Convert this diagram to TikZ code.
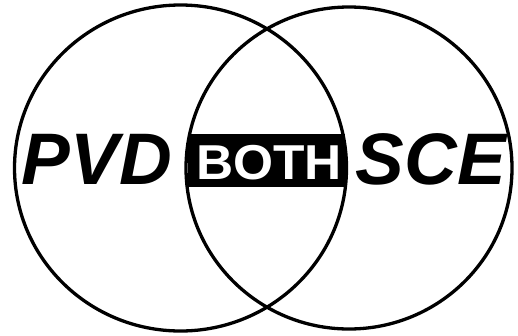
\documentclass[tikz,border=0pt]{standalone}
\usepackage{fontspec}
\setmainfont{Liberation Sans}
\begin{document}
\begin{tikzpicture}[x=1pt,y=-1pt,
  ring/.style={draw=black,line width=3.3pt},
  bigtxt/.style={font=\fontsize{73}{73}\selectfont\bfseries\itshape,inner sep=0pt,anchor=base},
  bothbox/.style={fill=black,minimum width=157pt,minimum height=53pt,inner sep=0pt},
  bothtext/.style={text=white,font=\fontsize{49}{49}\selectfont\bfseries,inner sep=0pt,anchor=base,xscale=1.05}]
\useasboundingbox (0,0) rectangle (518,335);
\draw[ring] (180.5,168) ellipse [x radius=166, y radius=163];
\draw[ring] (349,168) ellipse [x radius=163, y radius=161];
\node[bothbox] (both) at (266.5,160.5) {};
\node[bothtext] (bothtxt) at (269,179) {BOTH};
\node[bigtxt] (pvd) at (97,184) {PVD};
\node[bigtxt] (sce) at (431,184) {SCE};
\end{tikzpicture}
\end{document}
